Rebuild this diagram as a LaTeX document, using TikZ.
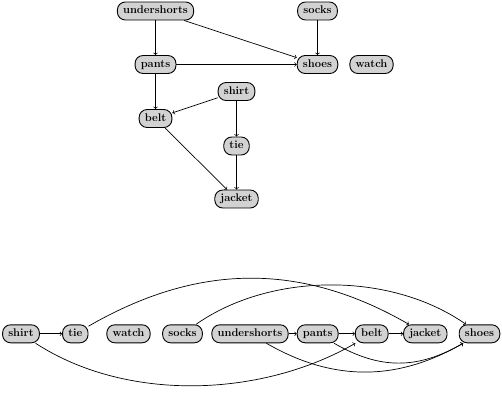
\documentclass[tikz,border=0pt]{standalone}
\begin{document}
\begin{tikzpicture}[x=1pt,y=1pt,
  item/.style={draw, fill=gray!35, rounded corners=8pt, line width=0.9pt,
    font=\fontsize{11.14}{13}\selectfont\bfseries, inner xsep=5.7pt, inner ysep=0pt,
    minimum height=18pt, text height=7pt, text depth=1.5pt},
  conn/.style={->, line width=0.7pt}]
\useasboundingbox (0,0) rectangle (502,-407);
% top graph
\node[item] (u1) at (155.5,-11) {undershorts};
\node[item] (so1) at (317.5,-11) {socks};
\node[item] (p1) at (155.5,-64.5) {pants};
\node[item] (sh1) at (317.5,-64.5) {shoes};
\node[item] (w1) at (371.5,-64.5) {watch};
\node[item] (s1) at (236.5,-91.5) {shirt};
\node[item] (b1) at (155.5,-118.5) {belt};
\node[item] (t1) at (236.5,-146) {tie};
\node[item] (j1) at (236.5,-199) {jacket};
\draw[conn] (u1) -- (p1);
\draw[conn] (u1) -- (sh1);
\draw[conn] (so1) -- (sh1);
\draw[conn] (p1) -- (sh1);
\draw[conn] (p1) -- (b1);
\draw[conn] (s1) -- (b1);
\draw[conn] (s1) -- (t1);
\draw[conn] (b1) -- (j1);
\draw[conn] (t1) -- (j1);
% bottom row
\node[item] (s2) at (21,-333.8) {shirt};
\node[item] (t2) at (75.3,-333.8) {tie};
\node[item] (w2) at (128.5,-333.8) {watch};
\node[item] (so2) at (182.5,-333.8) {socks};
\node[item] (u2) at (250,-333.8) {undershorts};
\node[item] (p2) at (317.7,-333.8) {pants};
\node[item] (b2) at (371.7,-333.8) {belt};
\node[item] (j2) at (425.3,-333.8) {jacket};
\node[item] (sh2) at (479.5,-333.8) {shoes};
\draw[conn] (s2) -- (t2);
\draw[conn] (u2) -- (p2);
\draw[conn] (p2) -- (b2);
\draw[conn] (b2) -- (j2);
\draw[conn] (t2) to[out=30, in=150, looseness=1.0] (j2);
\draw[conn] (so2) to[out=35, in=145, looseness=0.87] (sh2);
\draw[conn] (s2) to[out=-33, in=-150, looseness=0.87] (b2);
\draw[conn] (u2) to[out=-30, in=-150, looseness=1.0] (sh2);
\draw[conn] (p2) to[out=-30, in=-150, looseness=1.05] (sh2);
\end{tikzpicture}
\end{document}
